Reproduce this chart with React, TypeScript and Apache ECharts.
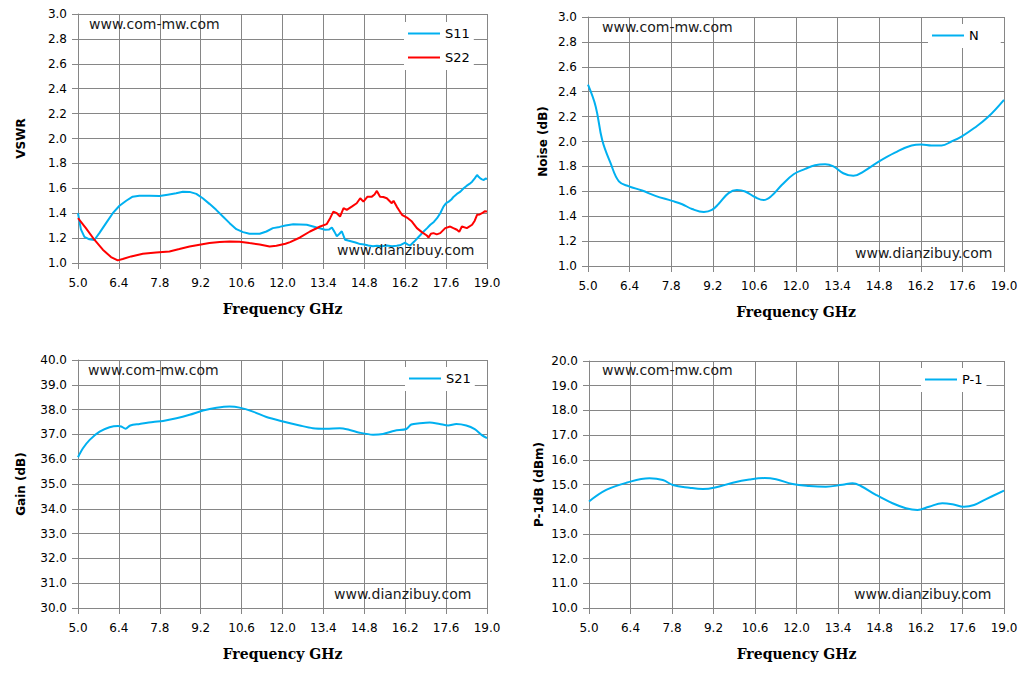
import { useEffect, useRef } from 'react'
import * as echarts from 'echarts'

// frequency axis: 5.0 .. 19.0 GHz, ticks every 1.4 GHz
const F_MIN = 5
const F_MAX = 19
const F_STEP = 1.4

// VSWR
const s11: [number, number][] = [
  [5.0, 1.4], [5.1, 1.27], [5.22, 1.21], [5.39, 1.19], [5.56, 1.185], [5.73, 1.24],
  [5.96, 1.32], [6.19, 1.4], [6.42, 1.46], [6.65, 1.5], [6.87, 1.533], [7.1, 1.541],
  [7.45, 1.541], [7.79, 1.538], [8.07, 1.549], [8.36, 1.56], [8.59, 1.573], [8.82, 1.571],
  [9.05, 1.555], [9.27, 1.52], [9.5, 1.475], [9.73, 1.427], [9.96, 1.373], [10.19, 1.32],
  [10.42, 1.272], [10.65, 1.248], [10.87, 1.235], [11.22, 1.235], [11.45, 1.253], [11.67, 1.28],
  [11.9, 1.29], [12.1, 1.301], [12.37, 1.312], [12.6, 1.31], [12.83, 1.307], [13.17, 1.285],
  [13.46, 1.267], [13.6, 1.27], [13.69, 1.285], [13.78, 1.25], [13.86, 1.215], [13.95, 1.235],
  [14.03, 1.255], [14.14, 1.187], [14.25, 1.18], [14.37, 1.173], [14.5, 1.165], [14.66, 1.152],
  [14.8, 1.148], [14.94, 1.141], [15.1, 1.135], [15.23, 1.139], [15.4, 1.134], [15.57, 1.141],
  [15.75, 1.135], [15.91, 1.139], [16.05, 1.145], [16.2, 1.163], [16.28, 1.15], [16.37, 1.14],
  [16.5, 1.17], [16.6, 1.195], [16.72, 1.225], [16.83, 1.253], [16.95, 1.28], [17.06, 1.307],
  [17.18, 1.33], [17.29, 1.36], [17.4, 1.4], [17.51, 1.453], [17.6, 1.48], [17.69, 1.493],
  [17.78, 1.51], [17.86, 1.533], [17.97, 1.555], [18.09, 1.573], [18.2, 1.6], [18.31, 1.621],
  [18.4, 1.635], [18.49, 1.653], [18.58, 1.68], [18.66, 1.707], [18.72, 1.69], [18.77, 1.68],
  [18.83, 1.672], [18.89, 1.667], [18.95, 1.678], [19.0, 1.675],
]

const s22: [number, number][] = [
  [5.0, 1.36], [5.27, 1.28], [5.56, 1.187], [5.85, 1.107], [6.13, 1.048], [6.36, 1.021],
  [6.53, 1.032], [6.82, 1.053], [7.22, 1.075], [7.67, 1.085], [8.13, 1.093], [8.47, 1.112],
  [8.82, 1.133], [9.16, 1.147], [9.5, 1.16], [9.85, 1.168], [10.19, 1.173], [10.53, 1.171],
  [10.87, 1.16], [11.22, 1.149], [11.56, 1.133], [11.79, 1.139], [12.1, 1.155], [12.26, 1.168],
  [12.6, 1.205], [12.94, 1.253], [13.29, 1.293], [13.51, 1.312], [13.63, 1.36], [13.74, 1.413],
  [13.86, 1.4], [13.97, 1.373], [14.09, 1.44], [14.2, 1.427], [14.37, 1.453], [14.54, 1.48],
  [14.66, 1.52], [14.77, 1.493], [14.91, 1.533], [15.06, 1.533], [15.15, 1.55], [15.23, 1.579],
  [15.34, 1.533], [15.45, 1.53], [15.57, 1.52], [15.74, 1.48], [15.8, 1.5], [15.91, 1.453],
  [16.0, 1.42], [16.09, 1.387], [16.26, 1.365], [16.43, 1.333], [16.6, 1.28], [16.77, 1.248],
  [16.94, 1.221], [17.0, 1.205], [17.08, 1.235], [17.17, 1.24], [17.28, 1.23], [17.4, 1.24],
  [17.57, 1.28], [17.74, 1.293], [17.85, 1.28], [17.97, 1.267], [18.05, 1.25], [18.14, 1.293],
  [18.31, 1.28], [18.49, 1.307], [18.58, 1.34], [18.66, 1.387], [18.75, 1.39], [18.83, 1.4],
  [18.92, 1.415], [19.0, 1.413],
]

// noise figure, dB
const noise: [number, number][] = [
  [5.0, 2.456], [5.26, 2.28], [5.48, 2.01], [5.76, 1.826], [6.04, 1.68], [6.38, 1.64],
  [6.82, 1.606], [7.27, 1.563], [7.83, 1.523], [8.17, 1.496], [8.5, 1.458], [8.9, 1.434],
  [9.17, 1.45], [9.4, 1.5], [9.73, 1.585], [10.01, 1.61], [10.29, 1.598], [10.63, 1.552],
  [10.91, 1.53], [11.19, 1.566], [11.52, 1.65], [11.92, 1.737], [12.31, 1.78], [12.64, 1.81],
  [12.98, 1.818], [13.26, 1.8], [13.59, 1.745], [13.93, 1.724], [14.27, 1.759], [14.77, 1.836],
  [15.33, 1.91], [15.89, 1.968], [16.22, 1.976], [16.56, 1.968], [16.9, 1.968], [17.23, 2.0],
  [17.57, 2.04], [18.01, 2.11], [18.46, 2.196], [19.0, 2.335],
]

// gain S21, dB
const s21: [number, number][] = [
  [5.0, 36.08], [5.17, 36.44], [5.4, 36.78], [5.74, 37.11], [6.08, 37.29], [6.37, 37.34],
  [6.48, 37.32], [6.63, 37.23], [6.79, 37.36], [7.11, 37.42], [7.57, 37.5], [7.91, 37.54],
  [8.37, 37.65], [8.82, 37.79], [9.28, 37.96], [9.74, 38.07], [10.19, 38.12], [10.53, 38.08],
  [10.99, 37.92], [11.45, 37.7], [12.02, 37.52], [12.59, 37.36], [13.04, 37.25], [13.5, 37.23],
  [13.96, 37.25], [14.3, 37.18], [14.64, 37.07], [15.1, 36.99], [15.44, 37.02], [15.84, 37.15],
  [16.24, 37.22], [16.41, 37.4], [16.7, 37.45], [17.04, 37.48], [17.38, 37.42], [17.67, 37.36],
  [17.95, 37.42], [18.29, 37.36], [18.58, 37.21], [18.81, 36.98], [19.0, 36.85],
]

// P-1dB, dBm
const p1db: [number, number][] = [
  [5.0, 14.31], [5.58, 14.78], [6.26, 15.07], [7.04, 15.25], [7.49, 15.18], [7.83, 14.98],
  [8.39, 14.87], [8.84, 14.82], [9.29, 14.89], [9.85, 15.07], [10.41, 15.2], [10.92, 15.26],
  [11.31, 15.21], [11.87, 15.02], [12.43, 14.94], [12.99, 14.91], [13.55, 14.99], [13.89, 15.05],
  [14.17, 14.94], [14.68, 14.58], [15.24, 14.24], [15.69, 14.04], [16.08, 13.97], [16.47, 14.1],
  [16.92, 14.24], [17.26, 14.2], [17.65, 14.1], [17.99, 14.17], [18.38, 14.4], [19.0, 14.75],
]

const BLUE = '#00b0f0'
const RED = '#ff0000'
const GREY = '#868686'
const SANS = '"DejaVu Sans", Verdana, sans-serif'

const panels = [
  { grid: { left: 78, top: 14, width: 409, height: 249 }, y: [1, 3, 0.2], name: 'VSWR', gap: 51 },
  { grid: { left: 588, top: 17, width: 416, height: 249 }, y: [1, 3, 0.2], name: 'Noise (dB)', gap: 39 },
  { grid: { left: 78, top: 360, width: 409, height: 248 }, y: [30, 40, 1], name: 'Gain (dB)', gap: 51 },
  { grid: { left: 589, top: 361, width: 415, height: 247 }, y: [10, 20, 1], name: 'P-1dB (dBm)', gap: 44 },
]

const watermarks: [string, number, number][] = [
  ['www.com-mw.com', 89, 25], ['www.dianzibuy.com', 337, 251],
  ['www.com-mw.com', 602, 28], ['www.dianzibuy.com', 855, 254],
  ['www.com-mw.com', 88, 371], ['www.dianzibuy.com', 334, 595],
  ['www.com-mw.com', 602, 371], ['www.dianzibuy.com', 854, 595],
]

const shift = (pts: [number, number][]) => pts.map(([f, v]) => [f - F_MIN, v])

export default function App() {
  const ref = useRef<HTMLDivElement>(null)

  useEffect(() => {
    if (!ref.current) return
    const chart = echarts.init(ref.current, null, { renderer: 'svg' })

    const lineStyle = { color: GREY, width: 1 }
    chart.setOption({
      animation: false,
      backgroundColor: '#fff',
      grid: panels.map((p) => ({ ...p.grid, outerBoundsMode: 'none' })),
      xAxis: panels.map((_, i) => ({
        type: 'value',
        gridIndex: i,
        min: 0,
        max: F_MAX - F_MIN,
        interval: F_STEP,
        axisLine: { show: true, onZero: false, lineStyle },
        axisTick: { show: true, length: 6, lineStyle },
        splitLine: { show: true, lineStyle },
        axisLabel: {
          formatter: (v: number) => (v + F_MIN).toFixed(1),
          color: '#000',
          fontSize: 12,
          fontFamily: SANS,
          margin: 14,
        },
        name: 'Frequency GHz',
        nameLocation: 'middle',
        nameGap: 39,
        nameTextStyle: { fontFamily: '"DejaVu Serif", serif', fontWeight: 'bold', fontSize: 14, color: '#000' },
      })),
      yAxis: panels.map((p, i) => ({
        type: 'value',
        gridIndex: i,
        min: p.y[0],
        max: p.y[1],
        interval: p.y[2],
        axisLine: { show: true, lineStyle },
        axisTick: { show: true, length: 6, lineStyle },
        splitLine: { show: true, lineStyle },
        axisLabel: {
          formatter: (v: number) => v.toFixed(1),
          color: '#000',
          fontSize: 12,
          fontFamily: SANS,
          margin: 11,
        },
        name: p.name,
        nameLocation: 'middle',
        nameGap: p.gap,
        nameTextStyle: { fontFamily: SANS, fontWeight: 'bold', fontSize: 12, color: '#000' },
      })),
      legend: [
        { data: ['S11', 'S22'], left: 404, top: 22, padding: [5, 4, 6, 4] },
        { data: ['N'], left: 928, top: 24, padding: [5, 22, 6, 4] },
        { data: ['S21'], left: 405, top: 367, padding: [5, 4, 6, 4] },
        { data: ['P-1'], left: 921, top: 368, padding: [5, 4, 6, 4] },
      ].map((l) => ({
        ...l,
        orient: 'vertical',
        icon: 'rect',
        itemWidth: 32,
        itemHeight: 2,
        itemGap: 11,
        backgroundColor: '#fff',
        textStyle: { fontFamily: SANS, fontSize: 13, color: '#000' },
      })),
      graphic: watermarks.map(([text, x, y]) => ({
        type: 'text',
        left: x,
        top: y - 8,
        z: 10,
        style: { text, font: `14px ${SANS}`, fill: '#1a1a1a' },
      })),
      series: [
        { name: 'S11', data: shift(s11), color: BLUE, idx: 0, smooth: false },
        { name: 'S22', data: shift(s22), color: RED, idx: 0, smooth: false },
        { name: 'N', data: shift(noise), color: BLUE, idx: 1, smooth: 0.4 },
        { name: 'S21', data: shift(s21), color: BLUE, idx: 2, smooth: 0.3 },
        { name: 'P-1', data: shift(p1db), color: BLUE, idx: 3, smooth: 0.4 },
      ].map((s) => ({
        type: 'line',
        name: s.name,
        data: s.data,
        xAxisIndex: s.idx,
        yAxisIndex: s.idx,
        symbol: 'none',
        smooth: s.smooth,
        color: s.color,
        lineStyle: { color: s.color, width: 2 },
      })),
    })

    return () => chart.dispose()
  }, [])

  return <div ref={ref} style={{ position: 'absolute', left: 0, top: 0, width: 1032, height: 679 }} />
}
